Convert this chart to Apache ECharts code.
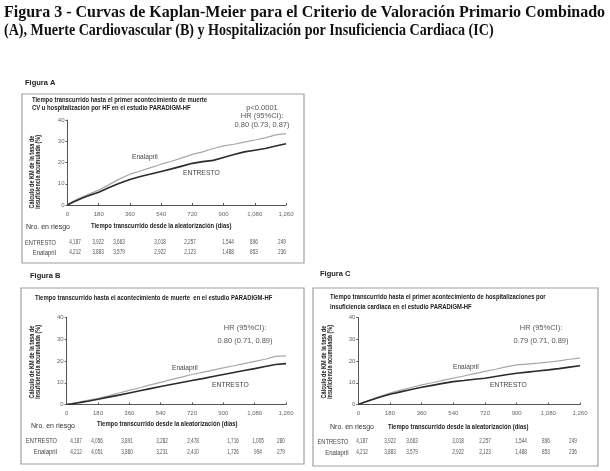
<!DOCTYPE html>
<html>
<head>
<meta charset="utf-8">
<script src="https://cdn.jsdelivr.net/npm/echarts@6/dist/echarts.min.js"></script>
<style>
  html, body { margin: 0; padding: 0; background: #fff; }
  #chart { width: 610px; height: 471px; }
</style>
</head>
<body>
<div id="chart"></div>
<script>
// time points (days since randomisation) used for all curves
var days = [0, 30, 60, 90, 120, 180, 240, 300, 360, 420, 480, 540, 600, 660, 720, 780, 840, 900, 960, 1020, 1080, 1140, 1200, 1260];

// Figure A - CV death or HF hospitalisation (%)
var entrestoA  = [0, 1.3, 2.4, 3.4, 4.3, 6.0, 8.2, 10.2, 12.0, 13.4, 14.6, 15.8, 17.0, 18.3, 19.6, 20.4, 21.0, 22.4, 23.8, 25.0, 25.8, 26.6, 27.8, 28.8];
var enalaprilA = [0, 1.6, 2.9, 4.0, 5.0, 7.0, 9.6, 12.3, 14.5, 16.0, 17.6, 19.2, 20.6, 22.2, 23.8, 25.0, 26.6, 27.8, 28.6, 29.6, 30.6, 31.6, 33.0, 33.6];

// Figure B - CV death (%)
var entrestoB  = [0, 0.3, 0.7, 1.1, 1.5, 2.4, 3.4, 4.3, 5.3, 6.3, 7.3, 8.3, 9.2, 10.1, 11.0, 11.9, 12.9, 13.8, 14.7, 15.6, 16.5, 17.5, 18.4, 18.8];
var enalaprilB = [0, 0.4, 0.9, 1.4, 1.9, 2.8, 4.0, 5.3, 6.5, 7.7, 9.0, 10.2, 11.4, 12.6, 13.8, 14.8, 15.8, 16.8, 17.8, 18.8, 19.8, 20.8, 22.1, 22.4];

// Figure C - HF hospitalisation (%)
var entrestoC  = [0, 0.9, 1.7, 2.5, 3.3, 4.7, 5.8, 6.9, 7.9, 8.8, 9.7, 10.5, 11.0, 11.6, 12.1, 12.9, 13.7, 14.4, 14.9, 15.4, 15.9, 16.5, 17.2, 17.8];
var enalaprilC = [0, 1.0, 1.9, 2.8, 3.6, 5.2, 6.6, 7.8, 9.0, 10.0, 11.1, 12.1, 13.1, 14.2, 15.2, 16.2, 17.3, 18.2, 18.6, 19.0, 19.5, 20.1, 20.8, 21.3];

// numbers at risk
var riskEntrestoA  = ['4,187', '3,922', '3,663', '3,018', '2,257', '1,544', '896', '249'];
var riskEnalaprilA = ['4,212', '3,883', '3,579', '2,922', '2,123', '1,488', '853', '236'];
var riskEntrestoB  = ['4,187', '4,056', '3,891', '3,282', '2,478', '1,716', '1,005', '280'];
var riskEnalaprilB = ['4,212', '4,051', '3,860', '3,231', '2,410', '1,726', '994', '279'];
var riskEntrestoC  = riskEntrestoA;
var riskEnalaprilC = riskEnalaprilA;

var hrTexts = [
  'p<0.0001\nHR (95%CI):\n0.80 (0.73, 0.87)',
  'HR (95%CI):\n0.80 (0.71, 0.89)',
  'HR (95%CI):\n0.79 (0.71, 0.89)'
];

var SANS = '"Liberation Sans", Arial, sans-serif';
var SERIF = '"Liberation Serif", "Times New Roman", serif';

function toPairs(xs, ys) {
  return xs.map(function (x, i) { return [x, ys[i]]; });
}

// text helper; scaleX squeezes Arial-like glyphs to look like the condensed face
function txt(x, y, text, opts) {
  opts = opts || {};
  return {
    type: 'text',
    x: x, y: y,
    rotation: opts.rotation || 0,
    scaleX: opts.sx || 1,
    scaleY: opts.sy || 1,
    silent: true,
    style: {
      text: text,
      fill: opts.fill || '#333',
      fontSize: opts.size || 7,
      fontWeight: opts.weight || 'normal',
      fontFamily: opts.family || SANS,
      align: opts.align || 'left',
      verticalAlign: 'middle',
      lineHeight: opts.lineHeight
    }
  };
}

function box(x1, y1, x2, y2) {
  return {
    type: 'rect', silent: true,
    shape: { x: x1, y: y1, width: x2 - x1, height: y2 - y1 },
    style: { fill: 'none', stroke: '#a0a0a0', lineWidth: 1.2 }
  };
}

var myChart = echarts.init(document.getElementById('chart'), null, { renderer: 'canvas' });

var grids = [
  { left: 67.5, top: 120, width: 218.5, height: 85 },
  { left: 66.7, top: 317.5, width: 219.3, height: 87 },
  { left: 358.3, top: 317.5, width: 221.7, height: 87 }
];

var xAxes = [], yAxes = [];
grids.forEach(function (g, i) {
  xAxes.push({
    gridIndex: i, type: 'value', min: 0, max: 1260, interval: 180,
    axisLine: { lineStyle: { color: '#555', width: 1 } },
    axisTick: { inside: true, length: 2, lineStyle: { color: '#555' } },
    splitLine: { show: false },
    axisLabel: {
      color: '#666', fontSize: 6, fontFamily: SANS, margin: 6,
      formatter: function (v) { return v >= 1000 ? Math.floor(v / 1000) + ',' + ('00' + (v % 1000)).slice(-3) : String(v); }
    }
  });
  yAxes.push({
    gridIndex: i, type: 'value', min: 0, max: 40, interval: 10,
    axisLine: { show: true, lineStyle: { color: '#555', width: 1 } },
    axisTick: { show: true, length: 2, lineStyle: { color: '#555' } },
    splitLine: { show: false },
    axisLabel: { color: '#666', fontSize: 6, fontFamily: SANS, margin: 3 }
  });
});

function curve(name, idx, data, dark) {
  return {
    name: name, type: 'line', xAxisIndex: idx, yAxisIndex: idx,
    data: toPairs(days, data), showSymbol: false, silent: true,
    lineStyle: { color: dark ? '#2b2b2b' : '#a8a8a8', width: dark ? 1.6 : 1.2 },
    z: dark ? 3 : 2
  };
}

var series = [
  curve('Enalapril', 0, enalaprilA, false),
  curve('ENTRESTO', 0, entrestoA, true),
  curve('Enalapril', 1, enalaprilB, false),
  curve('ENTRESTO', 1, entrestoB, true),
  curve('Enalapril', 2, enalaprilC, false),
  curve('ENTRESTO', 2, entrestoC, true)
];

// panel frames, titles, labels and at-risk tables
var yName = 'Cálculo de KM de la tasa de\ninsuficiencia acumulada (%)';
var xName = 'Tiempo transcurrido desde la aleatorización (días)';

var riskColsA = [75, 98, 119, 160, 190, 228, 254, 282];
var riskColsB = [76, 97, 127, 162, 193, 233, 258, 281];
var riskColsC = [362, 390, 412, 458, 485, 521, 546, 573];

var boldNarrow = { weight: 'bold', fill: '#222', sx: 0.84 };

function riskRows(cols, rowE, rowN, labelRight, yE, yN) {
  var out = [
    txt(labelRight, yE, 'ENTRESTO', { align: 'right', size: 7.5, fill: '#444', sx: 0.76 }),
    txt(labelRight, yN, 'Enalapril', { align: 'right', size: 7.5, fill: '#444', sx: 0.8 })
  ];
  cols.forEach(function (cx, i) {
    out.push(txt(cx, yE, rowE[i], { align: 'center', size: 6.5, fill: '#555', sx: 0.72 }));
    out.push(txt(cx, yN, rowN[i], { align: 'center', size: 6.5, fill: '#555', sx: 0.72 }));
  });
  return out;
}

var graphics = [
  txt(4, 13, 'Figura 3 - Curvas de Kaplan-Meier para el Criterio de Valoración Primario Combinado',
      { size: 16, weight: 'bold', family: SERIF, fill: '#111', sy: 1.05 }),
  txt(4, 31, '(A), Muerte Cardiovascular (B) y Hospitalización por Insuficiencia Cardiaca (IC)',
      { size: 16, weight: 'bold', family: SERIF, fill: '#111', sx: 0.88, sy: 1.05 }),

  txt(25, 83, 'Figura A', { size: 7.5, weight: 'bold', fill: '#222' }),
  txt(30, 276, 'Figura B', { size: 7.5, weight: 'bold', fill: '#222' }),
  txt(320, 274, 'Figura C', { size: 7.5, weight: 'bold', fill: '#222' }),

  box(22, 94, 304, 263),
  box(21, 288, 304, 464),
  box(313, 288, 598, 466),

  // panel A texts
  txt(32, 100, 'Tiempo transcurrido hasta el primer acontecimiento de muerte', boldNarrow),
  txt(32, 108.5, 'CV u hospitalización por HF en el estudio PARADIGM-HF', boldNarrow),
  txt(262, 116, hrTexts[0], { align: 'center', size: 7.5, fill: '#555', lineHeight: 8.5 }),
  txt(35, 172, yName, { rotation: Math.PI / 2, align: 'center', size: 6.5, weight: 'bold', fill: '#222', lineHeight: 6.5, sx: 0.85 }),
  txt(26, 227, 'Nro. en riesgo', { size: 7, fill: '#333' }),
  txt(91, 226, xName, boldNarrow),
  txt(132, 157, 'Enalapril', { size: 7.5, fill: '#444', sx: 0.88 }),
  txt(183, 172.5, 'ENTRESTO', { size: 7.5, fill: '#444', sx: 0.9 }),

  // panel B texts
  txt(35, 298.5, 'Tiempo transcurrido hasta el acontecimiento de muerte  en el estudio PARADIGM-HF', boldNarrow),
  txt(245, 334.5, hrTexts[1], { align: 'center', size: 7.5, fill: '#555', lineHeight: 13 }),
  txt(35, 362, yName, { rotation: Math.PI / 2, align: 'center', size: 6.5, weight: 'bold', fill: '#222', lineHeight: 6.5, sx: 0.85 }),
  txt(31, 426, 'Nro. en riesgo', { size: 7, fill: '#333' }),
  txt(97, 424, xName, boldNarrow),
  txt(172, 367.5, 'Enalapril', { size: 7.5, fill: '#444', sx: 0.88 }),
  txt(212, 385, 'ENTRESTO', { size: 7.5, fill: '#444', sx: 0.9 }),

  // panel C texts
  txt(330, 297.5, 'Tiempo transcurrido hasta el primer acontecimiento de hospitalizaciones por', boldNarrow),
  txt(330, 307.5, 'insuficiencia cardiaca en el estudio PARADIGM-HF', boldNarrow),
  txt(541, 334.5, hrTexts[2], { align: 'center', size: 7.5, fill: '#555', lineHeight: 12.5 }),
  txt(327, 362, yName, { rotation: Math.PI / 2, align: 'center', size: 6.5, weight: 'bold', fill: '#222', lineHeight: 6.5, sx: 0.85 }),
  txt(330, 427.5, 'Nro. en riesgo', { size: 7, fill: '#333' }),
  txt(388, 427, xName, boldNarrow),
  txt(453, 367, 'Enalapril', { size: 7.5, fill: '#444', sx: 0.88 }),
  txt(490, 384.5, 'ENTRESTO', { size: 7.5, fill: '#444', sx: 0.9 })
];

graphics = graphics
  .concat(riskRows(riskColsA, riskEntrestoA, riskEnalaprilA, 56, 242.5, 252.5))
  .concat(riskRows(riskColsB, riskEntrestoB, riskEnalaprilB, 57, 441, 452))
  .concat(riskRows(riskColsC, riskEntrestoC, riskEnalaprilC, 348.5, 441.5, 452.5));

var option = {
  backgroundColor: '#fff',
  animation: false,
  grid: grids,
  xAxis: xAxes,
  yAxis: yAxes,
  series: series,
  graphic: { elements: graphics }
};

myChart.setOption(option);
</script>
</body>
</html>
